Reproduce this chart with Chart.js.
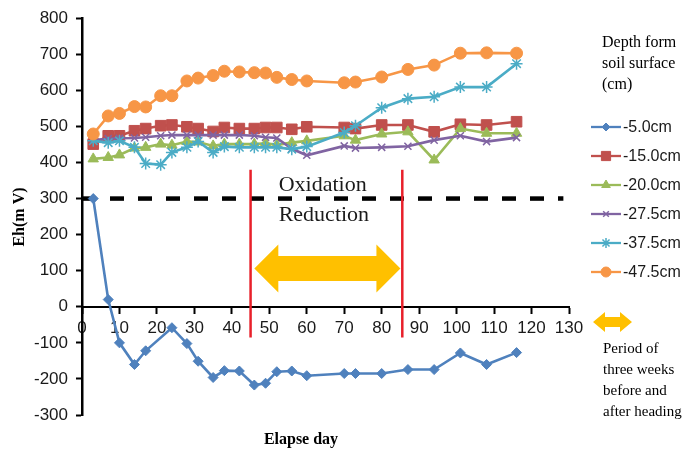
<!DOCTYPE html>
<html>
<head>
<meta charset="utf-8">
<script src="https://cdn.jsdelivr.net/npm/chart.js@4.4.1/dist/chart.umd.min.js"></script>
<style>
  html, body { margin: 0; padding: 0; background: #fff; }
  #wrap { width: 686px; height: 451px; }
</style>
</head>
<body>
<div id="wrap"><canvas id="ehChart" width="686" height="451"></canvas></div>
<script>
// ============================
// data
// ============================

const days = [3, 7, 10, 14, 17, 21, 24, 28, 31, 35, 38, 42, 46, 49, 52, 56, 60, 70, 73, 80, 87, 94, 101, 108, 116];

const depthLabels = ["-5.0cm", "-15.0cm", "-20.0cm", "-27.5cm", "-37.5cm", "-47.5cm"];

const eh05 = [300, 20, -100, -160, -122, null, -58, -102, -151, -196, -177, -178, -217, -212, -180, -178, -191, -185, -185, -185, -174, -174, -128, -160, -127];
const eh15 = [451, 474, 474, 488, 494, 502, 504, 499, 494, 486, 497, 494, 494, 497, 497, 492, 499, 497, 494, 504, 504, 485, 506, 504, 513];
const eh20 = [410, 414, 421, 440, 442, 451, 448, 458, 457, 446, 451, 451, 451, 453, 449, 455, 460, 474, 462, 479, 485, 407, 494, 481, 481];
const eh275 = [462, 466, 467, 468, 470, 474, 476, 476, 476, 476, 476, 476, 474, 470, 468, 438, 420, 446, 440, 442, 445, 462, 474, 458, 469];
const eh375 = [460, 455, 460, 442, 397, 394, 428, 442, 458, 428, 444, 442, 442, 442, 442, 437, 444, 483, 502, 552, 577, 582, 609, 609, 674];
const eh475 = [479, 529, 536, 555, 554, 585, 585, 626, 634, 641, 653, 651, 649, 648, 636, 630, 626, 621, 623, 637, 658, 670, 703, 704, 703];

const xTicks = [0, 130, 10];      // min, max, step
const yTicks = [-300, 800, 100];  // min, max, step

// Oxidation / Reduction boundary and heading period
const boundaryEh = 300;
const boundaryEnd = 128.5;
const headingDays = [45, 85.5];
const headingLineSpan = [-85, 380];
const arrowDays = [46, 85];
const arrowEh = 106;


// ============================
// styles
// ============================

const seriesStyle = [
  { color: "#4F81BD", point: "rectRot", r: 5 },
  { color: "#C0504D", point: "rect", r: 7.5 },
  { color: "#9BBB59", point: "triangle", r: 6 },
  { color: "#8064A2", point: "crossRot", r: 5 },
  { color: "#4BACC6", point: "star", r: 6 },
  { color: "#F79646", point: "circle", r: 6 }
];
const allSeries = [eh05, eh15, eh20, eh275, eh375, eh475];
const gold = "#FFC000";


// ============================
// datasets
// ============================

function toPoints(values) {
  return days.map((d, i) => ({ x: d, y: values[i] }));
}

const datasets = allSeries.map((vals, i) => ({
  label: depthLabels[i],
  data: toPoints(vals),
  borderColor: seriesStyle[i].color,
  backgroundColor: seriesStyle[i].color,
  pointBorderColor: seriesStyle[i].color,
  pointBackgroundColor: seriesStyle[i].color,
  pointStyle: seriesStyle[i].point,
  pointRadius: seriesStyle[i].r,
  pointBorderWidth: seriesStyle[i].point === "crossRot" || seriesStyle[i].point === "star" ? 1.5 : 1,
  borderWidth: 2.6,
  tension: 0,
  spanGaps: true,
  order: 6 - i
}));

// dashed boundary line
datasets.push({
  label: "boundary",
  data: [{ x: xTicks[0], y: boundaryEh }, { x: boundaryEnd, y: boundaryEh }],
  borderColor: "#000",
  borderWidth: 4.5,
  borderDash: [14, 14],
  pointRadius: 0,
  order: 9
});

// red lines: three weeks before and after heading
headingDays.forEach(d => {
  datasets.push({
    label: "heading",
    data: [{ x: d, y: headingLineSpan[0] }, { x: d, y: headingLineSpan[1] }],
    borderColor: "#E8202A",
    borderWidth: 2.5,
    pointRadius: 0,
    order: 8
  });
});


// ============================
// extra drawing (arrow, texts, legend)
// ============================

function doubleArrow(ctx, x1, x2, yc, headLen, headHalf, shaftHalf) {
  ctx.beginPath();
  ctx.moveTo(x1, yc);
  ctx.lineTo(x1 + headLen, yc - headHalf);
  ctx.lineTo(x1 + headLen, yc - shaftHalf);
  ctx.lineTo(x2 - headLen, yc - shaftHalf);
  ctx.lineTo(x2 - headLen, yc - headHalf);
  ctx.lineTo(x2, yc);
  ctx.lineTo(x2 - headLen, yc + headHalf);
  ctx.lineTo(x2 - headLen, yc + shaftHalf);
  ctx.lineTo(x1 + headLen, yc + shaftHalf);
  ctx.lineTo(x1 + headLen, yc + headHalf);
  ctx.closePath();
  ctx.fill();
}

const extras = {
  id: "extras",
  afterDatasetsDraw(chart) {
    const ctx = chart.ctx;
    const xs = chart.scales.x;
    const ys = chart.scales.y;

    ctx.save();

    // period arrow
    ctx.fillStyle = gold;
    doubleArrow(ctx, xs.getPixelForValue(arrowDays[0]), xs.getPixelForValue(arrowDays[1]),
      ys.getPixelForValue(arrowEh), 24, 24, 12.5);

    // Oxidation / Reduction
    ctx.fillStyle = "#1a1a1a";
    ctx.font = "22px 'Liberation Serif'";
    ctx.textAlign = "left";
    ctx.textBaseline = "alphabetic";
    ctx.fillText("Oxidation", xs.getPixelForValue(52.5), ys.getPixelForValue(321));
    ctx.fillText("Reduction", xs.getPixelForValue(52.5), ys.getPixelForValue(238));

    // axis titles
    ctx.fillStyle = "#000";
    ctx.font = "bold 16px 'Liberation Serif'";
    ctx.textAlign = "center";
    ctx.textBaseline = "middle";
    ctx.fillText("Elapse day", 301, 440);
    ctx.save();
    ctx.translate(20, 217);
    ctx.rotate(-Math.PI / 2);
    ctx.fillText("Eh(m V)", 0, 0);
    ctx.restore();

    // legend
    ctx.textAlign = "left";
    ctx.font = "16px 'Liberation Serif'";
    ctx.fillStyle = "#000";
    ["Depth form", "soil surface", "(cm)"].forEach((t, i) => ctx.fillText(t, 602, 43 + i * 21));

    ctx.font = "16px 'Liberation Sans'";
    seriesStyle.forEach((s, i) => {
      const y = 127 + i * 29;
      ctx.strokeStyle = s.color;
      ctx.fillStyle = s.color;
      ctx.lineWidth = 2.3;
      ctx.beginPath();
      ctx.moveTo(591, y);
      ctx.lineTo(621, y);
      ctx.stroke();
      ctx.lineWidth = s.point === "crossRot" || s.point === "star" ? 1.5 : 1;
      Chart.helpers.drawPoint(ctx, { pointStyle: s.point, radius: s.r - 1, borderWidth: ctx.lineWidth, rotation: 0 }, 606, y);
      ctx.fillStyle = "#1a1a1a";
      ctx.fillText(depthLabels[i], 623, y + 1);
    });

    ctx.fillStyle = gold;
    doubleArrow(ctx, 593, 632, 322, 12, 10, 5);

    ctx.fillStyle = "#000";
    ctx.font = "15px 'Liberation Serif'";
    ["Period of", "three weeks", "before and", "after heading"].forEach((t, i) => ctx.fillText(t, 603, 349 + i * 21));

    ctx.restore();
  }
};


// ============================
// chart
// ============================

new Chart(document.getElementById("ehChart"), {
  type: "line",
  data: { datasets: datasets },
  plugins: [extras],
  options: {
    responsive: false,
    animation: false,
    layout: { padding: { left: 0, right: 117, top: 17, bottom: 36 } },
    plugins: {
      legend: { display: false },
      tooltip: { enabled: false }
    },
    scales: {
      x: {
        type: "linear",
        position: { y: 0 },
        min: xTicks[0],
        max: xTicks[1],
        afterFit: s => { s.height = 0; },
        ticks: {
          stepSize: xTicks[2],
          color: "#1a1a1a",
          font: { family: "'Liberation Sans'", size: 17 },
          padding: 5,
          maxRotation: 0
        },
        grid: { drawOnChartArea: false, tickLength: 6, tickColor: "#000", tickWidth: 2 },
        border: { color: "#000", width: 2 }
      },
      y: {
        type: "linear",
        min: yTicks[0],
        max: yTicks[1],
        afterFit: s => { s.width = 82; },
        ticks: {
          stepSize: yTicks[2],
          color: "#1a1a1a",
          font: { family: "'Liberation Sans'", size: 17 },
          padding: 8
        },
        grid: { drawOnChartArea: false, tickLength: 6, tickColor: "#000", tickWidth: 2 },
        border: { color: "#000", width: 2.5 }
      }
    }
  }
});
</script>
</body>
</html>
